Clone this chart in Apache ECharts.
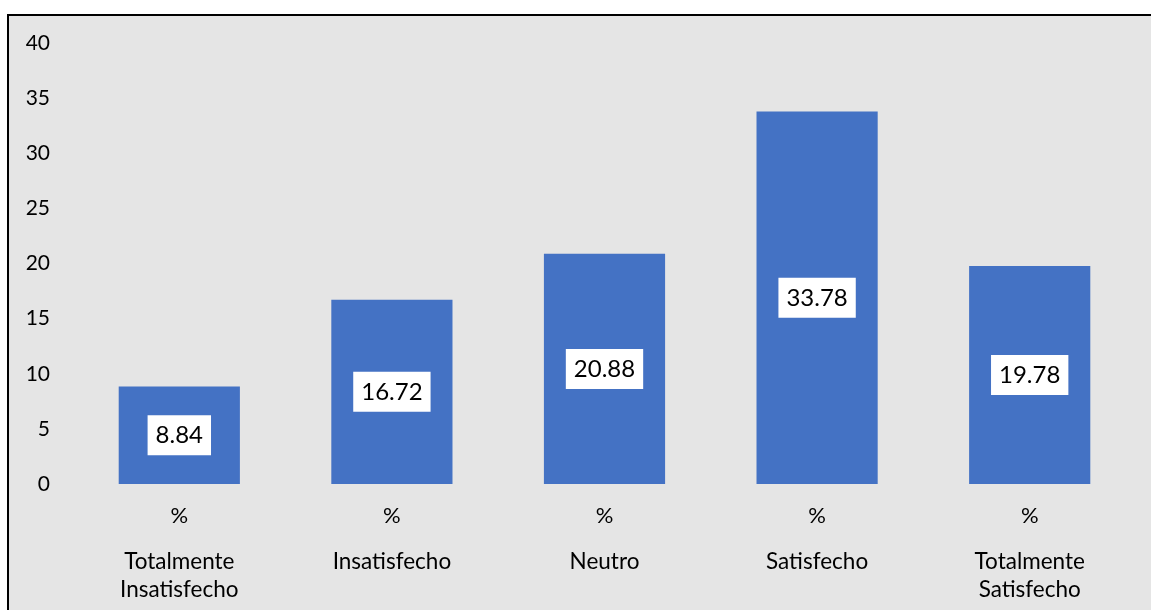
<!DOCTYPE html>
<html>
<head>
<meta charset="utf-8">
<style>
  html, body { margin: 0; padding: 0; background: #ffffff; }
  #chart { width: 1151px; height: 610px; }
</style>
<script src="https://cdn.jsdelivr.net/npm/echarts@6/dist/echarts.min.js"></script>
</head>
<body>
<div id="chart"></div>
<script>
// Niveles de satisfacción y porcentaje de respuestas
const categories = ['Totalmente\nInsatisfecho', 'Insatisfecho', 'Neutro', 'Satisfecho', 'Totalmente\nSatisfecho'];
const seriesLabel = '%';
const values = [8.84, 16.72, 20.88, 33.78, 19.78];
const yTicks = { min: 0, max: 40, interval: 5 };

const FONT = 'Lato, "Open Sans", sans-serif';

const chart = echarts.init(document.getElementById('chart'), null, { renderer: 'canvas' });

chart.setOption({
  backgroundColor: '#ffffff',
  animation: false,
  graphic: [{
    type: 'rect',
    z: -10,
    silent: true,
    shape: { x: 8, y: 15, width: 1160, height: 620 },
    style: { fill: '#e5e5e5', stroke: '#000000', lineWidth: 2 }
  }],
  grid: { left: 73, right: 15, top: 43, bottom: 126, containLabel: false },
  xAxis: {
    type: 'category',
    data: categories,
    axisLine: { show: false },
    axisTick: { show: false },
    axisLabel: {
      margin: 0,
      interval: 0,
      formatter: function (name) {
        const lines = name.split('\n').map(l => '{c|' + l + '}').join('\n');
        return '{p|' + seriesLabel + '}\n' + lines;
      },
      rich: {
        p: { fontFamily: FONT, fontSize: 22, color: '#000', lineHeight: 64 },
        c: { fontFamily: FONT, fontSize: 22.5, color: '#000', lineHeight: 28 }
      }
    }
  },
  yAxis: {
    type: 'value',
    min: yTicks.min,
    max: yTicks.max,
    interval: yTicks.interval,
    axisLine: { show: false },
    axisTick: { show: false },
    splitLine: { show: false },
    axisLabel: { fontFamily: FONT, fontSize: 21, color: '#000', margin: 23 }
  },
  series: [{
    type: 'bar',
    data: values,
    barWidth: '57%',
    itemStyle: { color: '#4472c4' },
    label: {
      show: true,
      position: 'inside',
      fontFamily: FONT,
      fontSize: 24,
      color: '#000',
      backgroundColor: '#ffffff',
      padding: [8, 8, 8, 8],
      formatter: p => p.value.toFixed(2)
    }
  }]
});
</script>
</body>
</html>
